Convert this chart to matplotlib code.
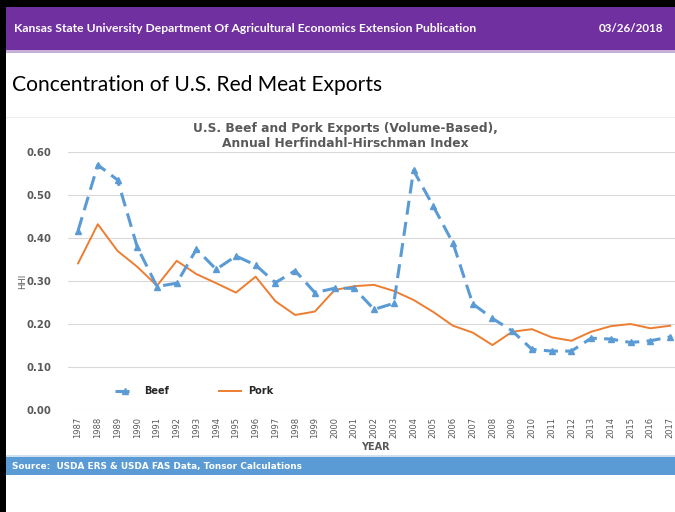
import matplotlib
matplotlib.use("Agg")
import matplotlib.pyplot as plt
from matplotlib.patches import Rectangle

# ------------------------------------------------------------
# Dados (HHI anual)
# ------------------------------------------------------------
anos = list(range(1987, 2018))

beef = [0.417, 0.570, 0.535, 0.379, 0.287, 0.295, 0.374, 0.327, 0.358, 0.337,
        0.296, 0.324, 0.273, 0.283, 0.283, 0.234, 0.248, 0.557, 0.474, 0.388,
        0.247, 0.213, 0.184, 0.141, 0.137, 0.137, 0.167, 0.165, 0.157, 0.161,
        0.170]

pork = [0.341, 0.432, 0.370, 0.333, 0.289, 0.347, 0.316, 0.295, 0.273, 0.310,
        0.253, 0.221, 0.229, 0.279, 0.288, 0.291, 0.277, 0.256, 0.228, 0.196,
        0.180, 0.151, 0.182, 0.188, 0.169, 0.161, 0.182, 0.195, 0.200, 0.190,
        0.196]

y_ticks = [0.0, 0.1, 0.2, 0.3, 0.4, 0.5, 0.6]

# ------------------------------------------------------------
# Cores
# ------------------------------------------------------------
ROXO = "#7030a0"
AZUL = "#5b9bd5"
LARANJA = "#ed7d31"
CINZA_TXT = "#595959"
CINZA_GRADE = "#d9d9d9"

W, H = 675, 512
fig = plt.figure(figsize=(W / 100, H / 100), dpi=100)


def px(x, y):
    """Converte pixel (origem no topo) para fração da figura."""
    return x / W, 1 - y / H


def faixa(x0, y0, x1, y1, cor, z=0):
    fx, fy = px(x0, y1)
    fig.patches.append(Rectangle((fx, fy), (x1 - x0) / W, (y1 - y0) / H,
                                 transform=fig.transFigure, color=cor,
                                 zorder=z, lw=0))


# bordas pretas (esquerda / topo)
faixa(0, 0, 6, H, "black")
faixa(0, 0, W, 7, "black")

# cabeçalho roxo
faixa(6, 7, W, 50, ROXO)
faixa(6, 50, W, 53, "#c5aed8")
fig.text(*px(14, 29), "Kansas State University Department Of Agricultural Economics Extension Publication",
         color="white", fontsize=8.7, fontweight="bold", family="Lato", va="center", ha="left")
fig.text(*px(663, 29), "03/26/2018", color="white", fontsize=8.4, fontweight="bold",
         family="Lato", va="center", ha="right")

# título principal
fig.text(*px(12, 85), "Concentration of U.S. Red Meat Exports", color="black",
         fontsize=15.1, family="Lato", va="center", ha="left")

# linha fina da área do gráfico
faixa(6, 117, W, 118, "#ececec")

# faixa de fonte
faixa(6, 457, W, 475, AZUL)
faixa(6, 455, W, 457, "#cfe0f1")
fig.text(*px(12, 466), "Source:  USDA ERS & USDA FAS Data, Tonsor Calculations",
         color="white", fontsize=6.4, fontweight="bold", family="DejaVu Sans",
         va="center", ha="left")

# ------------------------------------------------------------
# Gráfico de linhas
# ------------------------------------------------------------
esq, base = px(68, 410)
_, topo = px(68, 152)
ax = fig.add_axes([esq, base, 1 - esq, topo - base])
ax.set_facecolor("none")

ax.plot(anos, beef, color=AZUL, lw=2.2, ls=(0, (4.6, 2.4)), marker="^",
        markersize=5, label="Beef", zorder=3)
ax.plot(anos, pork, color=LARANJA, lw=1.4, label="Pork", zorder=2)

ax.set_xlim(1986.49, 2017.25)
ax.set_ylim(0, 0.6)
ax.set_yticks(y_ticks)
ax.set_yticklabels([f"{v:.2f}" for v in y_ticks], fontsize=7.3, fontweight="bold",
                   color=CINZA_TXT)
ax.set_xticks(anos)
ax.set_xticklabels([str(a) for a in anos], rotation=90, fontsize=6,
                   color=CINZA_TXT)
ax.tick_params(length=0, pad=5)
ax.tick_params(axis="y", pad=12)
ax.grid(axis="y", color=CINZA_GRADE, lw=0.8)
ax.set_axisbelow(True)
for s in ax.spines.values():
    s.set_visible(False)

ax.set_ylabel("HHI", fontsize=6, color=CINZA_TXT)
ax.yaxis.set_label_coords(-0.067, 0.5)
fig.text(*px(375, 447), "YEAR", fontsize=7, fontweight="bold", color=CINZA_TXT,
         ha="center", va="center")

fig.text(*px(345, 136), "U.S. Beef and Pork Exports (Volume-Based),\nAnnual Herfindahl-Hirschman Index",
         fontsize=8.8, fontweight="bold", color=CINZA_TXT, ha="center", va="center",
         linespacing=1.25)

leg = ax.legend(loc="center left", bbox_to_anchor=px(106, 391), bbox_transform=fig.transFigure,
                ncol=2, frameon=False, handlelength=2.2, columnspacing=5.2,
                prop={"size": 7, "weight": "bold"})
for t in leg.get_texts():
    t.set_color("#262626")

fig.savefig("out.png", dpi=100, facecolor="white")
